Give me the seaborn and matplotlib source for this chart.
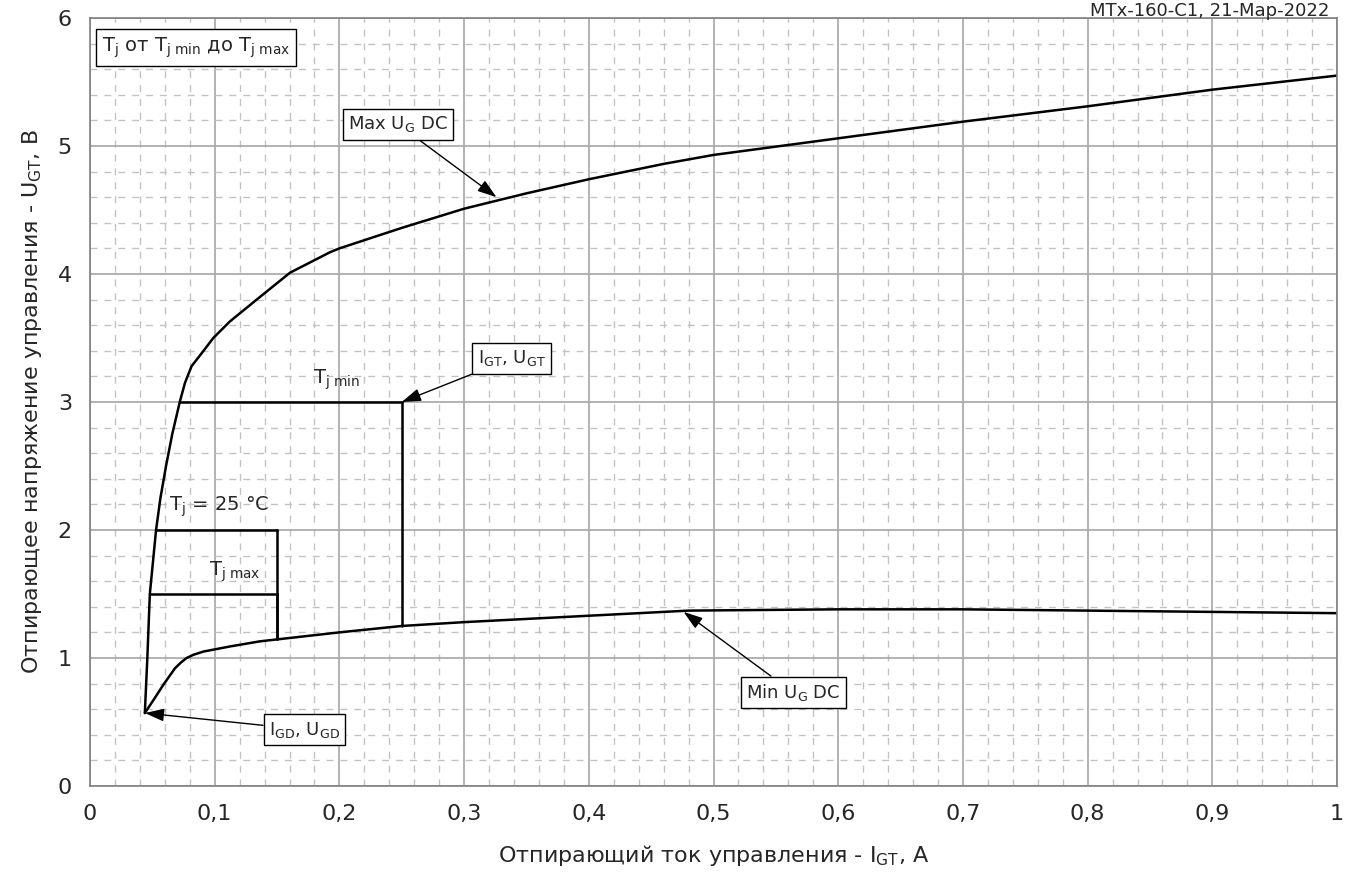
import matplotlib
matplotlib.use("Agg")
import matplotlib.pyplot as plt
import numpy as np
import seaborn as sns
from matplotlib.ticker import MultipleLocator

# Кривая максимального напряжения управления (Max UG DC)
max_ug_x = [0.044, 0.046, 0.048, 0.0505, 0.053, 0.0565, 0.061, 0.066, 0.072, 0.0762,
            0.0815, 0.0895, 0.0989, 0.1123, 0.1337, 0.1604, 0.1925, 0.2, 0.25, 0.3,
            0.35, 0.4, 0.46, 0.5, 0.6, 0.7, 0.8, 0.9, 1.0]
max_ug_y = [0.57, 1.0, 1.5, 1.75, 2.0, 2.25, 2.5, 2.75, 3.0, 3.15,
            3.28, 3.38, 3.50, 3.63, 3.80, 4.01, 4.17, 4.20, 4.36, 4.51,
            4.63, 4.74, 4.86, 4.93, 5.06, 5.19, 5.31, 5.44, 5.55]

# Кривая минимального напряжения управления (Min UG DC)
min_ug_x = [0.044, 0.0515, 0.0588, 0.0682, 0.073, 0.0775, 0.083, 0.0909, 0.1123, 0.1363,
            0.15, 0.2, 0.25, 0.3, 0.4, 0.48, 0.6, 0.7, 0.8, 0.9, 1.0]
min_ug_y = [0.57, 0.68, 0.79, 0.92, 0.965, 1.0, 1.025, 1.05, 1.09, 1.13,
            1.145, 1.2, 1.25, 1.28, 1.33, 1.37, 1.38, 1.38, 1.37, 1.36, 1.35]

# Ступеньки IGT/UGT для разных температур: (x начала, x конца, U, U на нижней кривой)
tj_names = ["Tj min", "Tj 25", "Tj max"]
tj_x_start = [0.072, 0.053, 0.048]
tj_x_end = [0.25, 0.15, 0.15]
tj_u = [3.0, 2.0, 1.5]
tj_u_low = [1.25, 1.145, 1.145]

x_tick_labels = ["0", "0,1", "0,2", "0,3", "0,4", "0,5", "0,6", "0,7", "0,8", "0,9", "1"]

sns.set_style("white")
plt.rcParams['font.family'] = ['DejaVu Sans']
plt.rcParams['mathtext.default'] = 'regular'

fig = plt.figure(figsize=(13.57, 8.86), dpi=100)
ax = fig.add_axes([0.0663, 0.1129, 0.919, 0.8668])

sns.lineplot(x=max_ug_x, y=max_ug_y, ax=ax, color="black", lw=1.8, sort=False)
sns.lineplot(x=min_ug_x, y=min_ug_y, ax=ax, color="black", lw=1.8, sort=False)

for i in range(len(tj_names)):
    ax.plot([tj_x_start[i], tj_x_end[i]], [tj_u[i], tj_u[i]], color="black", lw=1.8)
    ax.plot([tj_x_end[i], tj_x_end[i]], [tj_u[i], tj_u_low[i]], color="black", lw=1.8)

ax.text(0.198, 3.17, r"T$_{j\ min}$", fontsize=14, ha="center", va="center")
ax.text(0.104, 2.18, r"T$_j$ = 25 °C", fontsize=14, ha="center", va="center")
ax.text(0.116, 1.67, r"T$_{j\ max}$", fontsize=14, ha="center", va="center")

box = dict(boxstyle="square,pad=0.3", fc="white", ec="black", lw=1)
arrow = dict(arrowstyle="-|>,head_length=0.9,head_width=0.3", color="black", lw=1,
             shrinkA=0, shrinkB=0)

ax.annotate(r"Max U$_G$ DC", xy=(0.326, 4.6), xytext=(0.247, 5.17), fontsize=13,
            ha="center", va="center", bbox=box, arrowprops=arrow)
ax.annotate(r"I$_{GT}$, U$_{GT}$", xy=(0.25, 3.0), xytext=(0.338, 3.34), fontsize=13,
            ha="center", va="center", bbox=box, arrowprops=arrow)
ax.annotate(r"Min U$_G$ DC", xy=(0.476, 1.36), xytext=(0.564, 0.73), fontsize=13,
            ha="center", va="center", bbox=box, arrowprops=arrow)
ax.annotate(r"I$_{GD}$, U$_{GD}$", xy=(0.044, 0.57), xytext=(0.172, 0.44), fontsize=13,
            ha="center", va="center", bbox=box, arrowprops=arrow)
ax.text(0.0098, 5.77, r"T$_j$ от T$_{j\ min}$ до T$_{j\ max}$", fontsize=14,
        ha="left", va="center", bbox=dict(boxstyle="square,pad=0.3", fc="white", ec="black", lw=1))

ax.set_xlim(0, 1)
ax.set_ylim(0, 6)
ax.xaxis.set_minor_locator(MultipleLocator(0.02))
ax.yaxis.set_major_locator(MultipleLocator(1))
ax.yaxis.set_minor_locator(MultipleLocator(0.2))
ax.set_xticks(np.arange(0, 1.01, 0.1))
ax.set_xticklabels(x_tick_labels)

ax.grid(which="major", color="#a6a6a6", lw=1.2, ls="-")
ax.grid(which="minor", color="#c2c2c2", lw=1, ls=(0, (5, 5)))
ax.set_axisbelow(True)
ax.tick_params(which="major", direction="out", length=7, color="#808080", labelsize=16, pad=6)
ax.tick_params(which="minor", length=0)
for sp in ax.spines.values():
    sp.set_color("#808080")
    sp.set_linewidth(1.2)

ax.set_xlabel(r"Отпирающий ток управления - I$_{GT}$, A", fontsize=16, labelpad=14)
ax.set_ylabel(r"Отпирающее напряжение управления - U$_{GT}$, В", fontsize=16, labelpad=10)

fig.text(0.9795, 1 - 15.5 / 886, "MTx-160-C1, 21-Мар-2022", fontsize=13, ha="right", va="baseline")

fig.savefig("out.png", dpi=100)
